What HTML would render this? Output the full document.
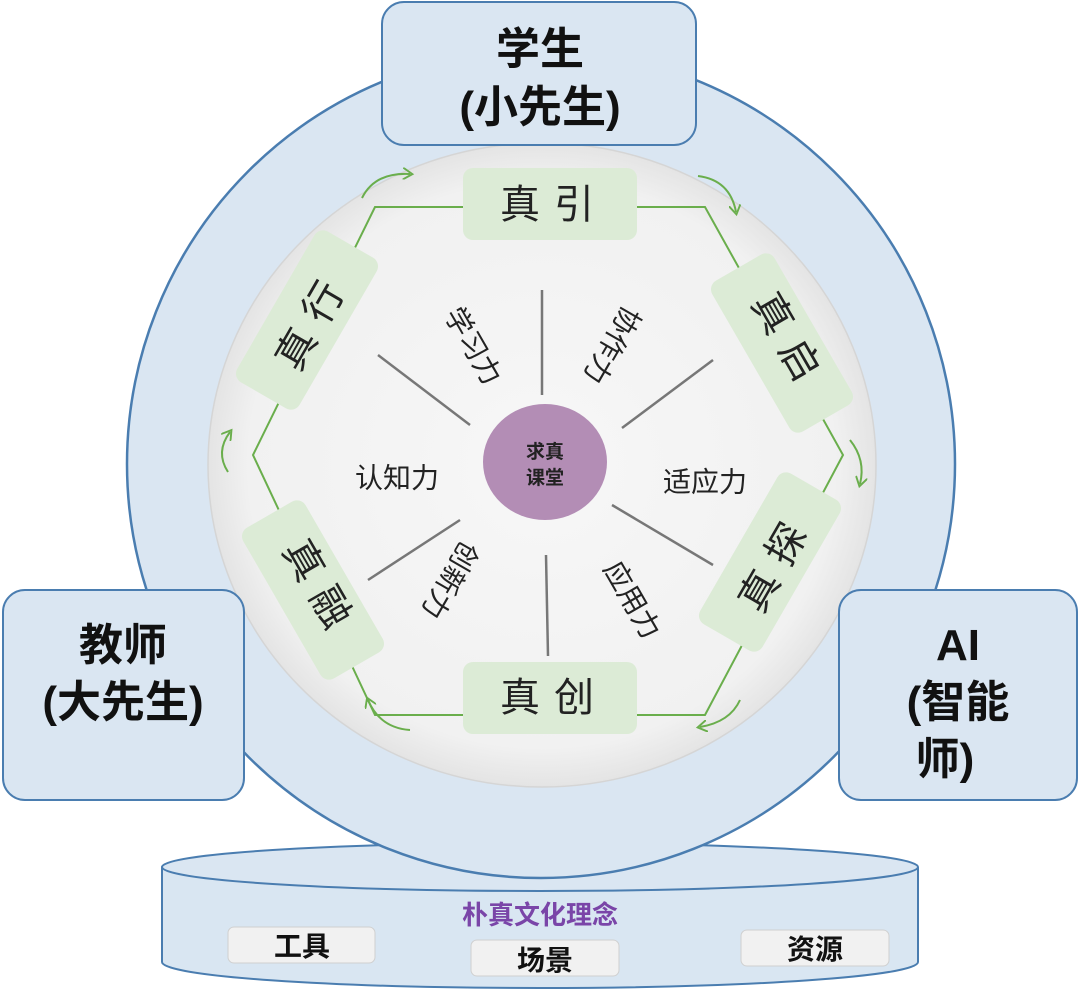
<!DOCTYPE html>
<html><head><meta charset="utf-8"><style>
html,body{margin:0;padding:0;background:#fff;}
svg{display:block;}
text{font-family:"Liberation Sans","Noto Sans CJK SC",sans-serif;}
</style></head><body>
<svg width="1080" height="991" viewBox="0 0 1080 991" xmlns="http://www.w3.org/2000/svg">
<defs>
<radialGradient id="ig" cx="50%" cy="50%" r="50%">
<stop offset="0%" stop-color="#f7f7f7"/><stop offset="88%" stop-color="#f1f1f1"/><stop offset="100%" stop-color="#e4e4e4"/>
</radialGradient>
<marker id="ah" viewBox="0 0 10 10" refX="6" refY="5" markerWidth="6" markerHeight="6" orient="auto">
<path d="M0,0 L8,5 L0,10" fill="none" stroke="#6aae4c" stroke-width="1.6"/>
</marker>
</defs>
<path d="M162,868 L162,962 A378,26 0 0 0 918,962 L918,868 Z" fill="#d9e6f2" stroke="#4a7db0" stroke-width="2"/>
<ellipse cx="540" cy="867" rx="378" ry="24" fill="#dae6f2" stroke="#4a7db0" stroke-width="2"/>
<circle cx="541" cy="464" r="414" fill="#dae6f2" stroke="#4a7db0" stroke-width="2.5"/>
<ellipse cx="542" cy="465" rx="334" ry="322" fill="url(#ig)" stroke="#d5d5d5" stroke-width="1.5"/>
<polyline points="463,207 375,207 253,455 375,715 463,715" fill="none" stroke="#6aae4c" stroke-width="2"/>
<polyline points="637,207 705,207 843,455 705,715 637,715" fill="none" stroke="#6aae4c" stroke-width="2"/>
<g fill="none" stroke="#6aae4c" stroke-width="2" marker-end="url(#ah)">
<path d="M362,198 Q375,172 410,174"/>
<path d="M698,176 Q730,180 736,212"/>
<path d="M850,440 Q866,460 860,484"/>
<path d="M740,700 Q730,722 700,727"/>
<path d="M410,730 Q380,728 368,700"/>
<path d="M228,472 Q215,452 230,432"/>
</g>
<g stroke="#777" stroke-width="2.5">
<line x1="542" y1="290" x2="542" y2="395"/>
<line x1="546" y1="555" x2="548" y2="656"/>
<line x1="378" y1="355" x2="470" y2="425"/>
<line x1="713" y1="360" x2="622" y2="428"/>
<line x1="612" y1="505" x2="713" y2="565"/>
<line x1="460" y1="520" x2="368" y2="580"/>
</g>
<g fill="#dcebd6">
<rect x="463" y="168" width="174" height="72" rx="10"/>
<rect x="463" y="662" width="174" height="72" rx="10"/>
<rect x="-87" y="-36" width="174" height="72" rx="10" transform="translate(782,343) rotate(60)"/>
<rect x="-87" y="-36" width="174" height="72" rx="10" transform="translate(770,562) rotate(-60)"/>
<rect x="-87" y="-36" width="174" height="72" rx="10" transform="translate(313,590) rotate(60)"/>
<rect x="-87" y="-36" width="174" height="72" rx="10" transform="translate(307,320) rotate(-60)"/>
</g>
<g font-size="40" fill="#222" text-anchor="middle" dominant-baseline="central" letter-spacing="14">
<text x="554" y="205">真引</text>
<text x="554" y="698">真创</text>
<text transform="translate(789,343) rotate(60)">真启</text>
<text transform="translate(777,562) rotate(-60)">真探</text>
<text transform="translate(320,590) rotate(60)">真融</text>
<text transform="translate(314,320) rotate(-60)">真行</text>
</g>
<g font-size="28" fill="#222" text-anchor="middle" dominant-baseline="central">
<text x="397" y="478">认知力</text>
<text x="705" y="482">适应力</text>
<text transform="translate(473,346) rotate(60)">学习力</text>
<text transform="translate(612,345) rotate(120)">协作力</text>
<text transform="translate(450,580) rotate(120)">创新力</text>
<text transform="translate(632,600) rotate(60)">应用力</text>
</g>
<ellipse cx="545" cy="462" rx="62" ry="58" fill="#b38db5"/>
<g font-size="19" font-weight="bold" fill="#222" text-anchor="middle">
<text x="545" y="458">求真</text>
<text x="545" y="484">课堂</text>
</g>
<g fill="#dae6f2" stroke="#4a7db0" stroke-width="2">
<rect x="382" y="2" width="314" height="143" rx="22"/>
<rect x="3" y="590" width="241" height="210" rx="22"/>
<rect x="839" y="590" width="238" height="210" rx="22"/>
</g>
<g font-size="44" font-weight="bold" fill="#111" text-anchor="middle">
<text x="540" y="64">学生</text>
<text x="540" y="122">(小先生)</text>
<text x="123" y="660">教师</text>
<text x="123" y="717">(大先生)</text>
<text x="958" y="660">AI</text>
<text x="958" y="717">(智能</text>
<text x="945" y="774">师)</text>
</g>
<text x="540" y="924" font-size="26" font-weight="bold" fill="#7a45a8" text-anchor="middle">朴真文化理念</text>
<g fill="#f1f1f1" stroke="#d0d0d0" stroke-width="1">
<rect x="228" y="927" width="147" height="36" rx="6"/>
<rect x="471" y="940" width="148" height="36" rx="6"/>
<rect x="741" y="930" width="148" height="36" rx="6"/>
</g>
<g font-size="28" font-weight="bold" fill="#111" text-anchor="middle">
<text x="302" y="956">工具</text>
<text x="545" y="970">场景</text>
<text x="815" y="959">资源</text>
</g>
</svg>
</body></html>
